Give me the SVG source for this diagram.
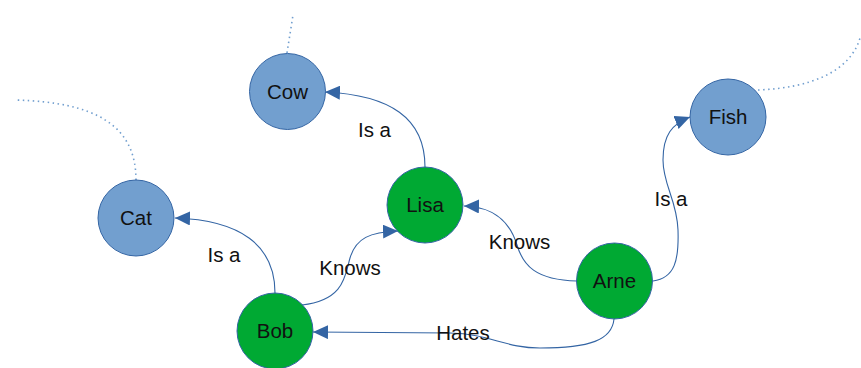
<svg xmlns="http://www.w3.org/2000/svg" width="861" height="368" viewBox="0 0 861 368">
  <style>
    .blue { fill: #729fcf; stroke: #3465a4; stroke-width: 1; }
    .green { fill: #00a933; stroke: #3465a4; stroke-width: 1; }
    .label { font-family: "Liberation Sans", Arial, sans-serif; font-size: 20.5px; fill: #111; text-anchor: middle; }
    .edge { fill: none; stroke: #3465a4; stroke-width: 1.1; marker-end: url(#arrow); }
    .dots { fill: none; stroke: #729fcf; stroke-width: 1.6; stroke-dasharray: 1.5 3.5; }
  </style>
  <defs>
    <marker id="arrow" markerUnits="userSpaceOnUse" markerWidth="16" markerHeight="14" refX="15" refY="7" orient="auto">
      <path d="M0,0 L15,7 L0,14 z" fill="#3465a4"/>
    </marker>
  </defs>
  <rect width="861" height="368" fill="#ffffff"/>

  <!-- open-ended dotted stubs -->
  <g id="stubs">
    <path class="dots" d="M136,180 C136,125 95,102 15,100"/>
    <path class="dots" d="M287,53 C289,40 291,28 293,15"/>
    <path class="dots" d="M758,90 C810,88 850,72 860,38"/>
  </g>

  <g id="connectors">
    <path class="edge" d="M425,167 C425,118 390,95 325,92"/>
    <path class="edge" d="M275,293 C275,245 240,220 175,218"/>
    <path class="edge" d="M302,305 C345,300 345,275 350,258 C356,238 370,232 398,231"/>
    <path class="edge" d="M577,281 C535,280 523,265 517,245 C510,222 495,207 464,206"/>
    <path class="edge" d="M653,281 C675,278 679,260 678,230 C677,200 663,185 663,160 C663,135 672,124 690,117"/>
    <path class="edge" d="M614,319 C612,340 590,348 540,348 C505,348 490,334 450,333 L313,332"/>
    <text class="label" x="374.5" y="137">Is a</text>
    <text class="label" x="224" y="262">Is a</text>
    <text class="label" x="350" y="275">Knows</text>
    <text class="label" x="519.5" y="249">Knows</text>
    <text class="label" x="671" y="206">Is a</text>
    <text class="label" x="463" y="340">Hates</text>
  </g>

  <g id="cow">
    <circle class="blue" cx="287.5" cy="91.5" r="38"/>
    <text class="label" x="287.5" y="98.5">Cow</text>
  </g>
  <g id="cat">
    <circle class="blue" cx="136" cy="218" r="38"/>
    <text class="label" x="136" y="225">Cat</text>
  </g>
  <g id="fish">
    <circle class="blue" cx="728" cy="117" r="38"/>
    <text class="label" x="728" y="124">Fish</text>
  </g>
  <g id="lisa">
    <circle class="green" cx="425" cy="205" r="38"/>
    <text class="label" x="425" y="212">Lisa</text>
  </g>
  <g id="bob">
    <circle class="green" cx="275" cy="331" r="38"/>
    <text class="label" x="275" y="338">Bob</text>
  </g>
  <g id="arne">
    <circle class="green" cx="614.5" cy="281" r="38"/>
    <text class="label" x="614.5" y="288">Arne</text>
  </g>
</svg>
